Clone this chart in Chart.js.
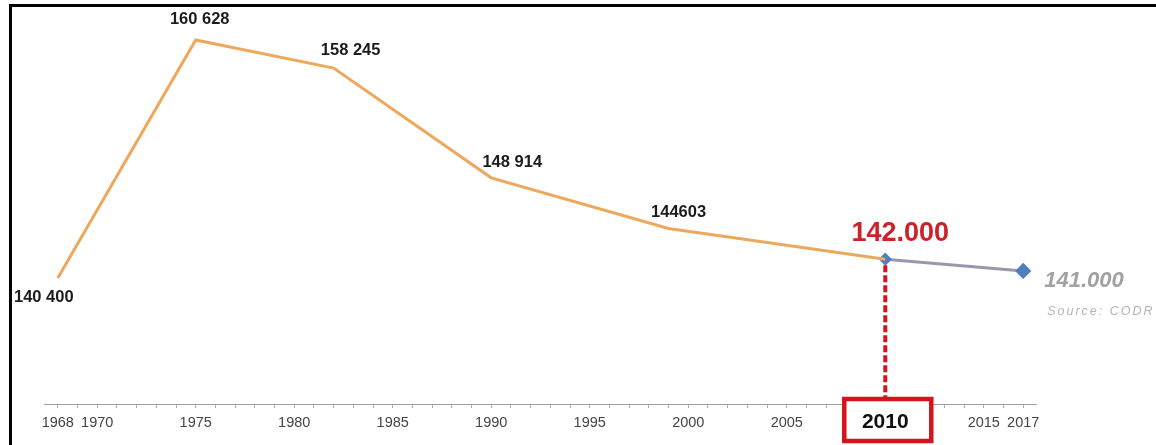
<!DOCTYPE html>
<html>
<head>
<meta charset="utf-8">
<script src="https://cdn.jsdelivr.net/npm/chart.js@4.4.1/dist/chart.umd.min.js"></script>
<style>
  html, body { margin: 0; padding: 0; background: #fff; }
  #wrap { width: 1156px; height: 445px; }
</style>
</head>
<body>
<div id="wrap"><canvas id="c" width="1156" height="445"></canvas></div>
<script>
// Population counts by census year
const years = [1968, 1975, 1982, 1990, 1999, 2010];
const population = [140400, 160628, 158245, 148914, 144603, 142000];
// Estimate from 2010 onwards
const forecastYears = [2010, 2017];
const forecastPopulation = [142000, 141000];
// Thousands separator used when printing each census value
const separators = [' ', ' ', ' ', ' ', '', '.'];
const forecastSeparator = '.';
// Years labelled under the axis
const tickYears = [1968, 1970, 1975, 1980, 1985, 1990, 1995, 2000, 2005, 2010, 2015, 2017];
const highlightYear = 2010;
const sourceNote = 'Source: CODR';

const FONT = "'Liberation Sans', Arial, Helvetica, sans-serif";
Chart.defaults.font.family = FONT;

function formatCount(v, sep) {
  return Math.round(v).toString().replace(/\B(?=(\d{3})+(?!\d))/g, sep);
}

// Label placement relative to each census point
const labelOffsets = [[-14, 19], [4, -21], [17, -18], [21, -15], [10, -16], [15, -26]];

const annotations = {
  id: 'annotations',
  beforeDraw(chart) {
    const ctx = chart.ctx;
    ctx.save();
    ctx.fillStyle = '#fff';
    ctx.fillRect(0, 0, chart.width, chart.height);
    ctx.restore();
  },
  afterDatasetsDraw(chart) {
    const ctx = chart.ctx;
    const xs = chart.scales.x, ys = chart.scales.y;
    const hx = xs.getPixelForValue(highlightYear);
    const hy = ys.getPixelForValue(forecastPopulation[0]);
    ctx.save();

    // dashed drop line from the highlighted point to the axis box
    ctx.strokeStyle = '#d7141c';
    ctx.lineWidth = 4;
    ctx.setLineDash([7, 3]);
    ctx.beginPath();
    ctx.moveTo(hx, hy + 6);
    ctx.lineTo(hx, xs.top - 7);
    ctx.stroke();
    ctx.setLineDash([]);

    // box around the highlighted year
    ctx.fillStyle = '#fff';
    ctx.fillRect(hx - 39, xs.top - 3, 83, 9);
    ctx.lineWidth = 4.5;
    ctx.strokeRect(hx - 41, xs.top - 5, 87, 42);

    // census value labels
    const meta = chart.getDatasetMeta(0);
    ctx.textAlign = 'center';
    ctx.textBaseline = 'middle';
    population.forEach((v, i) => {
      const pt = meta.data[i];
      const [dx, dy] = labelOffsets[i];
      if (i === population.length - 1) {
        ctx.font = 'bold 27px ' + FONT;
        ctx.fillStyle = '#cc2229';
      } else {
        ctx.font = 'bold 16.5px ' + FONT;
        ctx.fillStyle = '#1c1c1c';
      }
      ctx.fillText(formatCount(v, separators[i]), pt.x + dx, pt.y + dy);
    });

    // estimate label and source note
    const fMeta = chart.getDatasetMeta(1);
    const last = fMeta.data[fMeta.data.length - 1];
    ctx.textAlign = 'left';
    ctx.font = 'italic bold 22px ' + FONT;
    ctx.fillStyle = '#a2a2a2';
    ctx.fillText(formatCount(forecastPopulation[forecastPopulation.length - 1], forecastSeparator), last.x + 21, last.y + 10);
    ctx.font = 'italic 12.5px ' + FONT;
    ctx.fillStyle = '#b4b4b4';
    ctx.letterSpacing = '2px';
    ctx.fillText(sourceNote, last.x + 24, last.y + 41);
    ctx.letterSpacing = '0px';

    ctx.restore();
  },
  afterDraw(chart) {
    // frame lines along top and left edges
    const ctx = chart.ctx;
    ctx.save();
    ctx.fillStyle = '#000';
    ctx.fillRect(9, 4, chart.width - 9, 3);
    ctx.fillRect(9, 4, 3, chart.height - 4);
    ctx.restore();
  }
};

new Chart(document.getElementById('c'), {
  type: 'line',
  data: {
    datasets: [
      {
        data: years.map((yr, i) => ({ x: yr, y: population[i] })),
        borderColor: '#eca85c',
        borderWidth: 3,
        pointRadius: 0,
        tension: 0
      },
      {
        data: forecastYears.map((yr, i) => ({ x: yr, y: forecastPopulation[i] })),
        borderColor: '#9a97ad',
        borderWidth: 3,
        pointStyle: 'rectRot',
        pointRadius: [4.5, 6],
        pointBackgroundColor: '#4f7fc0',
        pointBorderColor: '#4f7fc0',
        tension: 0
      }
    ]
  },
  options: {
    responsive: false,
    devicePixelRatio: 1,
    animation: false,
    layout: { padding: { left: 44, right: 120, top: 10, bottom: 0 } },
    plugins: { legend: { display: false }, tooltip: { enabled: false } },
    scales: {
      x: {
        type: 'linear',
        min: 1967.3,
        max: 2017.65,
        afterBuildTicks(scale) {
          const t = [];
          for (let yr = tickYears[0]; yr <= tickYears[tickYears.length - 1]; yr++) t.push({ value: yr });
          scale.ticks = t;
        },
        afterFit(scale) { scale.height = 41; },
        grid: { display: true, drawOnChartArea: false, drawTicks: true, tickLength: 4, color: '#b0b0b0' },
        border: { display: true, color: '#a0a0a0', width: 1 },
        ticks: {
          autoSkip: false,
          maxRotation: 0,
          padding: 6,
          color: (c) => (c.tick && c.tick.value === highlightYear ? '#111' : '#444'),
          font: (c) => (c.tick && c.tick.value === highlightYear
            ? { size: 21, weight: 'bold', lineHeight: 0.8 }
            : { size: 14.5 }),
          callback: (v) => (tickYears.includes(v) ? String(v) : '')
        }
      },
      y: {
        type: 'linear',
        display: false,
        min: 129690,
        max: 163180
      }
    }
  },
  plugins: [annotations]
});
</script>
</body>
</html>
